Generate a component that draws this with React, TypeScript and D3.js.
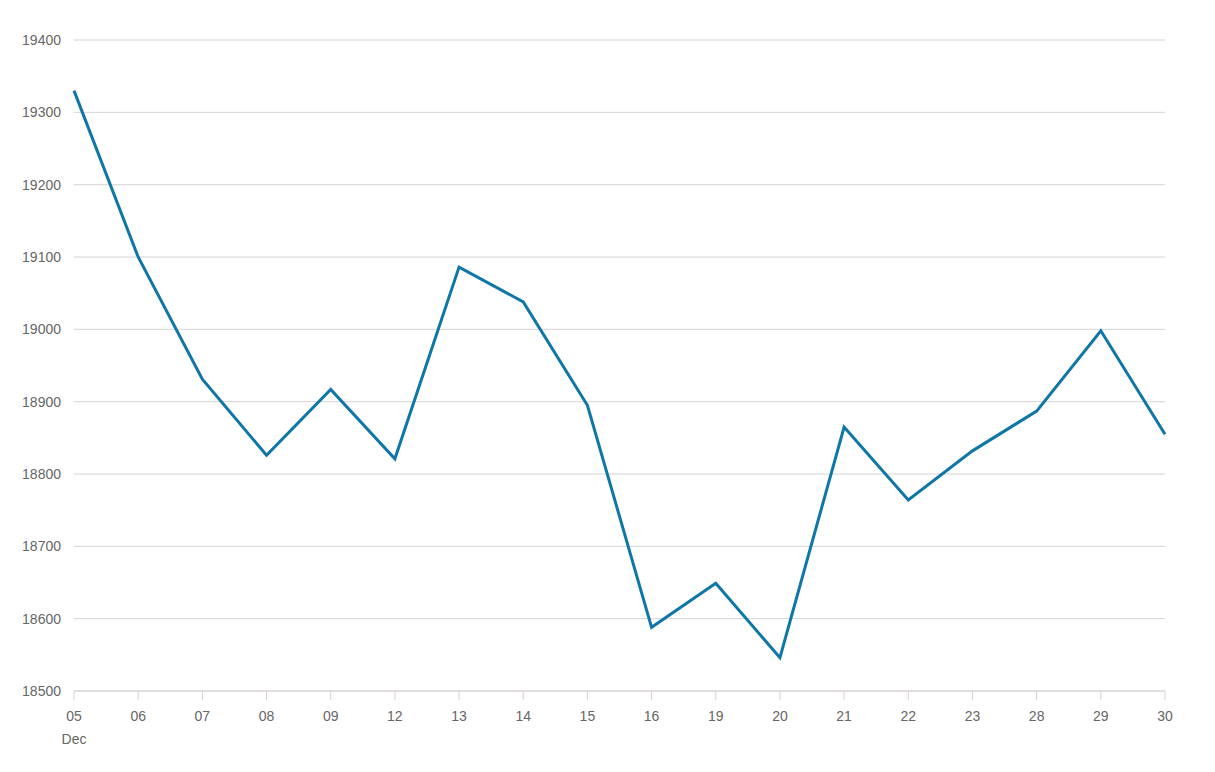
import React from "react";
import * as d3 from "d3";

const categories = ["05","06","07","08","09","12","13","14","15","16","19","20","21","22","23","28","29","30"];
const values = [19330,19100,18931,18826,18917,18821,19086,19038,18895,18588,18649,18546,18865,18764,18832,18887,18998,18855];
const yTicks = [18500,18600,18700,18800,18900,19000,19100,19200,19300,19400];
const monthLabel = "Dec";

export default function App() {
  const W = 1215, H = 772;
  const left = 74, right = 1165, top = 40, bottom = 691;
  const x = d3.scalePoint<string>().domain(categories).range([left, right]);
  const y = d3.scaleLinear().domain([18500, 19400]).range([bottom, top]);
  const line = d3.line<number>().x((_, i) => x(categories[i])!).y(d => y(d));
  const font = "'Liberation Sans', Arial, sans-serif";
  return (
    <svg width={W} height={H} style={{ position: "absolute", left: 0, top: 0, background: "#fff" }}>
      {yTicks.map(t => (
        <g key={t}>
          <line x1={left} x2={right} y1={y(t)} y2={y(t)} stroke="#d8d2d6" strokeWidth={1} />
          <text x={61} y={y(t)} dy="0.35em" textAnchor="end" fill="#666" fontSize={14} fontFamily={font}>{t}</text>
        </g>
      ))}
      <line x1={left} x2={right} y1={bottom} y2={bottom} stroke="#d8d2d6" strokeWidth={1} />
      {categories.map(c => (
        <g key={c}>
          <line x1={x(c)} x2={x(c)} y1={bottom} y2={bottom + 9} stroke="#d8d2d6" strokeWidth={1} />
          <text x={x(c)} y={716} dy="0.35em" textAnchor="middle" fill="#666" fontSize={14} fontFamily={font}>{c}</text>
        </g>
      ))}
      <text x={x(categories[0])} y={739} dy="0.35em" textAnchor="middle" fill="#666" fontSize={14} fontFamily={font}>{monthLabel}</text>
      <path d={line(values)!} fill="none" stroke="#0f76a8" strokeWidth={3} strokeLinejoin="miter" />
    </svg>
  );
}
